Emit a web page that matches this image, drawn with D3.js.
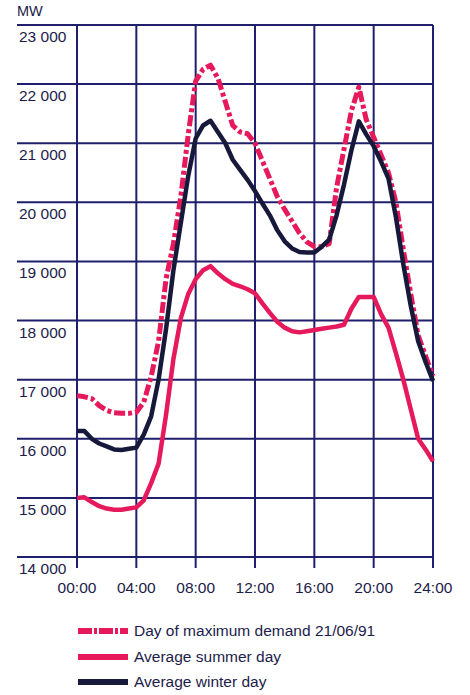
<!DOCTYPE html>
<html>
<head>
<meta charset="utf-8">
<script src="https://cdn.jsdelivr.net/npm/d3@7/dist/d3.min.js"></script>
<style>
  html, body { margin: 0; padding: 0; background: #ffffff; }
  svg { display: block; }
  text { font-family: "Liberation Sans", Arial, sans-serif; fill: #1c1c4a; }
</style>
</head>
<body>
<div id="chart"></div>
<script>
// ---------- data ----------
const unitLabel = "MW";
const hours = d3.range(0, 24.01, 0.5);
const xTickHours = [0, 4, 8, 12, 16, 20, 24];
const xTickLabels = ["00:00", "04:00", "08:00", "12:00", "16:00", "20:00", "24:00"];
const yTickValues = [14000, 15000, 16000, 17000, 18000, 19000, 20000, 21000, 22000, 23000];
const yTickLabels = ["14 000", "15 000", "16 000", "17 000", "18 000", "19 000", "20 000", "21 000", "22 000", "23 000"];

const maxDemand = [
  16730, 16710, 16680, 16560, 16480, 16440, 16430, 16430, 16450, 16620,
  17050, 17650, 18700, 19300, 20100, 21150, 22050, 22250, 22320, 22100,
  21700, 21300, 21190, 21160, 21000, 20700, 20400, 20100, 19880, 19680,
  19480, 19330, 19250, 19250, 19300, 20250, 20900, 21550, 21950, 21400,
  21100, 20800, 20500, 20000, 19200, 18450, 17750, 17400, 17060
];
const summerDay = [
  15000, 15010, 14930, 14860, 14820, 14800, 14800, 14820, 14840, 14960,
  15250, 15580, 16400, 17350, 18040, 18450, 18700, 18850, 18920, 18800,
  18700, 18620, 18580, 18530, 18460, 18290, 18130, 17980, 17880, 17820,
  17800, 17820, 17840, 17860, 17880, 17900, 17930, 18200, 18400, 18400,
  18400, 18110, 17880, 17450, 17000, 16500, 16000, 15820, 15620
];
const winterDay = [
  16130, 16130, 16000, 15920, 15870, 15820, 15810, 15830, 15850, 16070,
  16380, 17000, 17850, 18850, 19650, 20450, 21080, 21300, 21380, 21190,
  21000, 20720, 20550, 20380, 20190, 19980, 19780, 19530, 19340, 19220,
  19160, 19150, 19150, 19250, 19370, 19780, 20300, 20880, 21370, 21150,
  20950, 20690, 20400, 19750, 18950, 18250, 17650, 17300, 16980
];

const seriesNames = ["Day of maximum demand 21/06/91", "Average summer day", "Average winter day"];
const seriesValues = [maxDemand, summerDay, winterDay];

// ---------- styles ----------
const pink = "#e5195b";
const navy = "#17193b";
const gridColor = "#1f1f6b";
const styles = [
  { color: pink, width: 5, dash: "11,3,4,3" },
  { color: pink, width: 4.5, dash: null },
  { color: navy, width: 4.5, dash: null }
];

const W = 470, H = 695;
const svg = d3.select("#chart").append("svg").attr("width", W).attr("height", H);

const x = d3.scaleLinear().domain([0, 24]).range([77, 433]);
const y = d3.scaleLinear().domain([14000, 23000]).range([557, 25]);

// grid
const grid = svg.append("g");
grid.selectAll("line.h").data(yTickValues).join("line")
  .attr("x1", 17).attr("x2", x(24))
  .attr("y1", d => y(d)).attr("y2", d => y(d))
  .attr("stroke", gridColor).attr("stroke-width", 2);
grid.selectAll("line.v").data(xTickHours).join("line")
  .attr("x1", d => x(d)).attr("x2", d => x(d))
  .attr("y1", y(23000)).attr("y2", y(14000) + 11)
  .attr("stroke", gridColor).attr("stroke-width", 2);

// y labels
svg.append("g").selectAll("text").data(yTickValues).join("text")
  .attr("x", 19).attr("y", d => y(d) + 17)
  .attr("font-size", "15.5px")
  .text((d, i) => yTickLabels[i]);

svg.append("text").attr("x", 17).attr("y", 16).attr("font-size", "14.5px").text(unitLabel);

// x labels
svg.append("g").selectAll("text").data(xTickHours).join("text")
  .attr("x", d => x(d)).attr("y", 593)
  .attr("text-anchor", "middle")
  .attr("font-size", "15.5px")
  .text((d, i) => xTickLabels[i]);

// lines
const line = d3.line().x((d, i) => x(hours[i])).y(d => y(d));
const drawOrder = [1, 0, 2];
drawOrder.forEach(k => {
  const st = styles[k];
  svg.append("path")
    .datum(seriesValues[k])
    .attr("d", line)
    .attr("fill", "none")
    .attr("stroke", st.color)
    .attr("stroke-width", st.width)
    .attr("stroke-linejoin", "round")
    .attr("stroke-dasharray", st.dash);
});

// legend
const legendY = [631, 657, 682];
const lg = svg.append("g");
seriesNames.forEach((name, k) => {
  const st = styles[k];
  lg.append("line")
    .attr("x1", 78).attr("x2", 128)
    .attr("y1", legendY[k]).attr("y2", legendY[k])
    .attr("stroke", st.color)
    .attr("stroke-width", 6)
    .attr("stroke-dasharray", st.dash ? "14,2,3,2" : null);
  lg.append("text")
    .attr("x", 134).attr("y", legendY[k] + 5)
    .attr("font-size", "15.5px")
    .text(name);
});
</script>
</body>
</html>
